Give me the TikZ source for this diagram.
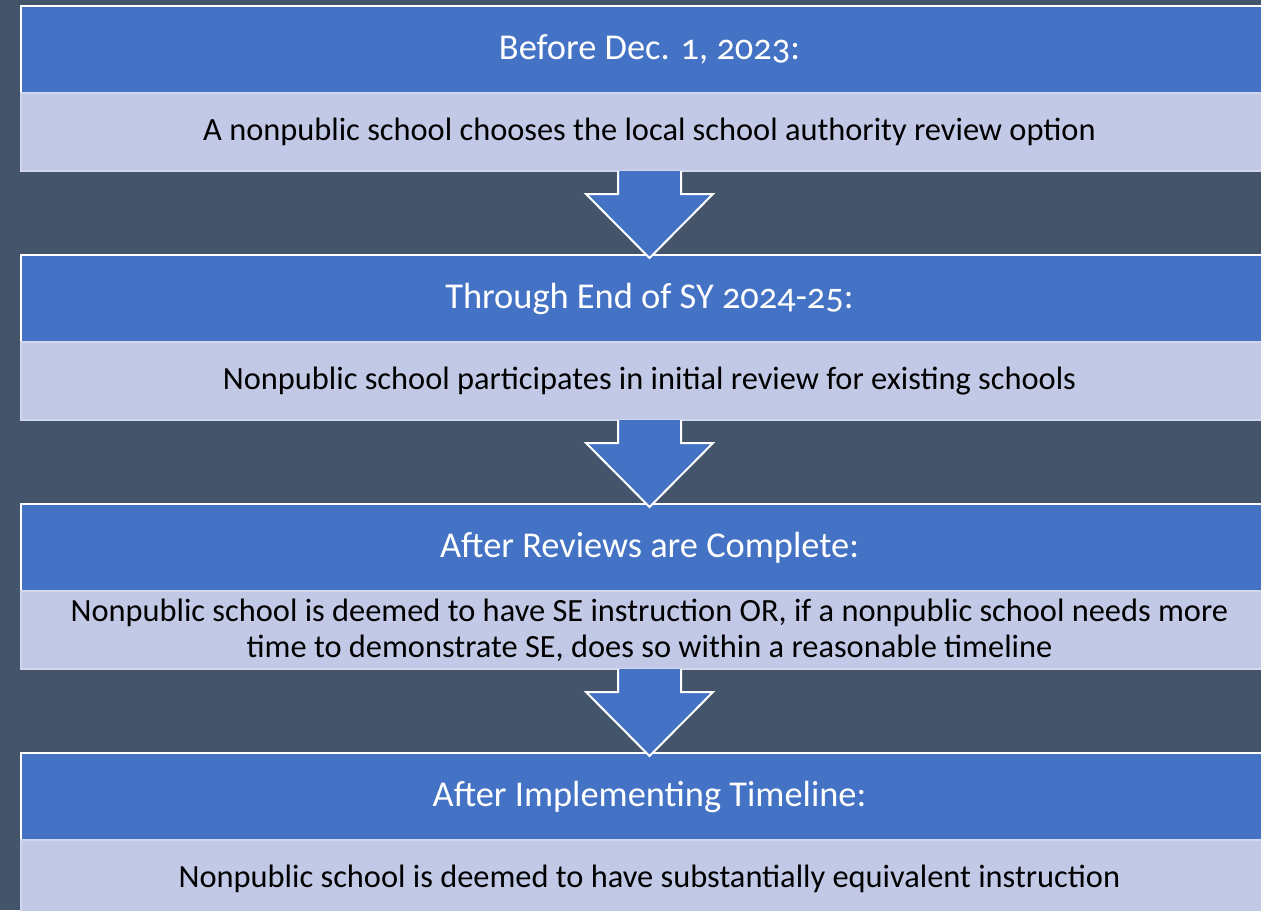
\documentclass[tikz,border=0pt]{standalone}
\usepackage{fontspec}
\setmainfont{Carlito}
\newfontfamily\headfont[Numbers=OldStyle]{Carlito}
\usetikzlibrary{positioning,calc}

\definecolor{slate}{HTML}{44546A}
\definecolor{hdrblue}{HTML}{4472C4}
\definecolor{bodylav}{HTML}{C2C9E6}
\definecolor{bodyline}{HTML}{D3D7EC}

\tikzset{
  header/.style={draw=white, line width=1pt, fill=hdrblue, text=white,
    minimum width=628.5pt, minimum height=43.5pt, inner sep=0pt, outer sep=0pt,
    font=\headfont\fontsize{18.2}{21}\selectfont},
  detail/.style={draw=bodyline, line width=1pt, fill=bodylav, text=black,
    minimum width=628.5pt, minimum height=39pt, inner sep=0pt, outer sep=0pt,
    align=center, font=\fontsize{16.2}{18}\selectfont},
  flow/.style={draw=white, line width=1pt, fill=hdrblue, line join=miter}
}

% block arrow from a detail box down to the next header
\newcommand\flowarrow[2]{
  \filldraw[flow] let \p1=(#1.south), \p2=(#2.north) in
    (\x1-15.75pt,\y1) -- (\x1-15.75pt,\y2+30.5pt) -- (\x1-31.75pt,\y2+30.5pt)
    -- (\x2,\y2-1.5pt) -- (\x1+31.75pt,\y2+30.5pt) -- (\x1+15.75pt,\y2+30.5pt)
    -- (\x1+15.75pt,\y1);
}

\begin{document}
\begin{tikzpicture}[x=0.5pt,y=-0.5pt]
  \useasboundingbox (0,0) rectangle (1261,910);
  \clip (0,0) rectangle (1261,910);
  \fill[slate] (0,0) rectangle (1261,910);

  \node[header] (hdrA) at (649.5,49.5) {Before Dec. 1, 2023:};
  \node[detail, below=0pt of hdrA] (bodyA) {A nonpublic school chooses the local school authority review option};

  \node[header, below=42pt of bodyA] (hdrB) {Through End of SY 2024-25:};
  \node[detail, below=0pt of hdrB] (bodyB) {Nonpublic school participates in initial review for existing schools};

  \node[header, below=42pt of bodyB] (hdrC) {After Reviews are Complete:};
  \node[detail, below=0pt of hdrC] (bodyC) {Nonpublic school is deemed to have SE instruction OR, if a nonpublic school needs more\\time to demonstrate SE, does so within a reasonable timeline};

  \node[header, below=42pt of bodyC] (hdrD) {After Implementing Timeline:};
  \node[detail, below=0pt of hdrD] (bodyD) {Nonpublic school is deemed to have substantially equivalent instruction};

  \flowarrow{bodyA}{hdrB}
  \flowarrow{bodyB}{hdrC}
  \flowarrow{bodyC}{hdrD}
\end{tikzpicture}
\end{document}
